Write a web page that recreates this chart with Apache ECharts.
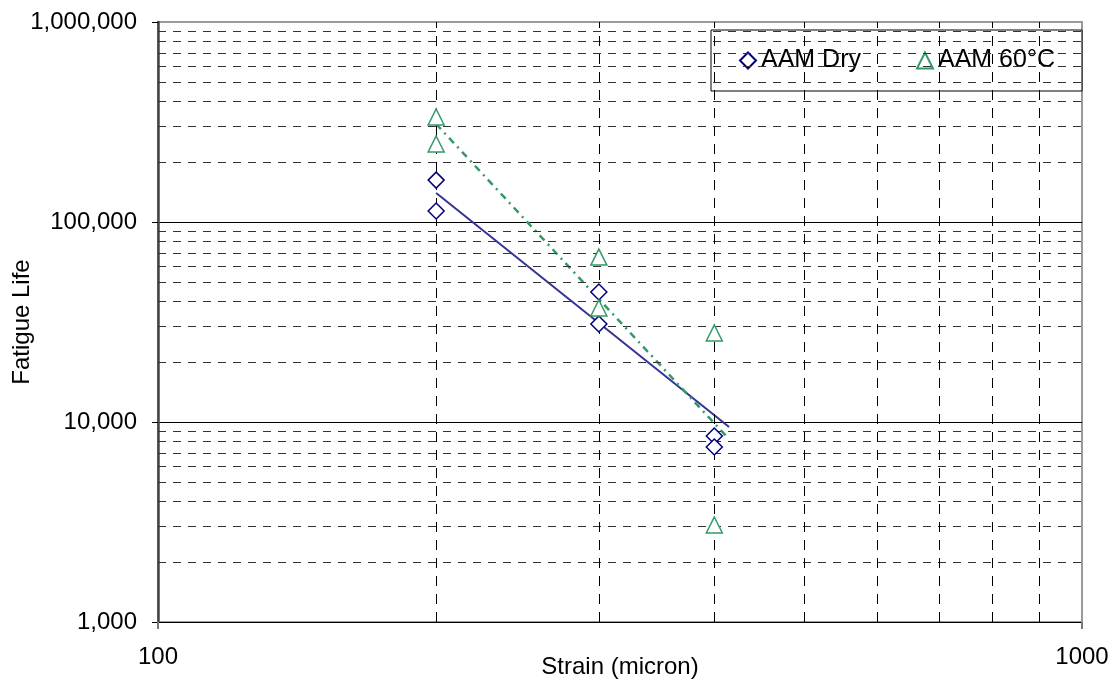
<!DOCTYPE html>
<html>
<head>
<meta charset="utf-8">
<script src="https://cdn.jsdelivr.net/npm/echarts@6/dist/echarts.min.js"></script>
<style>html,body{margin:0;padding:0;background:#fff}#c{width:1118px;height:688px}</style>
</head>
<body>
<div id="c"></div>
<script>
// Data
const strainDry = [200, 200, 300, 300, 400, 400];
const lifeDry = [162000, 113500, 44700, 30900, 8510, 7500];
const strain60 = [200, 200, 300, 300, 400, 400];
const life60 = [335000, 245500, 66800, 37150, 27860, 3055];
// Power-law trend lines (end points)
const trendDryStrain = [200, 415];
const trendDryLife = [139600, 9440];
const trend60Strain = [200, 413];
const trend60Life = [309000, 8410];
// Minor grid lines
const minorX = [200, 300, 400, 500, 600, 700, 800, 900];
const minorY = [2000, 3000, 4000, 5000, 6000, 7000, 8000, 9000,
  20000, 30000, 40000, 50000, 60000, 70000, 80000, 90000,
  200000, 300000, 400000, 500000, 600000, 700000, 800000, 900000];

const FONT = '"Liberation Sans", Arial, sans-serif';
const pairs = (xs, ys) => xs.map((x, i) => [x, ys[i]]);

const chart = echarts.init(document.getElementById('c'), null, {renderer: 'canvas'});
chart.setOption({
  animation: false,
  backgroundColor: '#fff',
  textStyle: {fontFamily: FONT},
  grid: {left: 158, right: 36, top: 22, bottom: 66, containLabel: false, outerBoundsMode: 'none',
    show: true, borderColor: '#9a9a9a', borderWidth: 2, backgroundColor: 'transparent'},
  legend: {
    left: 711, top: 30,
    padding: [18, 27, 18, 28],
    borderColor: '#000', borderWidth: 1, backgroundColor: '#fff',
    itemGap: 55, itemWidth: 16, itemHeight: 16,
    textStyle: {fontSize: 25, color: '#000', fontFamily: FONT},
    data: ['AAM Dry', 'AAM 60°C']
  },
  xAxis: {
    type: 'log', logBase: 10, min: 100, max: 1000,
    name: 'Strain (micron)', nameLocation: 'middle', nameGap: 33, nameMoveOverlap: false,
    nameTextStyle: {fontSize: 24, color: '#000', fontFamily: FONT},
    axisLine: {show: true, onZero: false, lineStyle: {color: '#000', width: 1}},
    axisTick: {show: true, length: 7, lineStyle: {color: '#777', width: 2}},
    axisLabel: {fontSize: 24, color: '#000', margin: 23, fontFamily: FONT, formatter: v => String(Math.round(v))},
    splitLine: {show: false},
    minorTick: {show: false}, minorSplitLine: {show: false}
  },
  yAxis: {
    type: 'log', logBase: 10, min: 1000, max: 1000000,
    name: 'Fatigue Life', nameLocation: 'middle', nameGap: 124, nameRotate: 90, nameMoveOverlap: false,
    nameTextStyle: {fontSize: 24, color: '#000', fontFamily: FONT},
    axisLine: {show: true, onZero: false, lineStyle: {color: '#444', width: 2.5}},
    axisTick: {show: true, length: 6, lineStyle: {color: '#000', width: 1}},
    axisLabel: {fontSize: 24, color: '#000', margin: 21, fontFamily: FONT,
      formatter: v => Math.round(v).toLocaleString('en-US')},
    splitLine: {show: true, showMinLine: false, showMaxLine: false, lineStyle: {color: '#000', width: 1}},
    minorTick: {show: false}, minorSplitLine: {show: false}
  },
  series: [
    {
      type: 'line', data: [], silent: true, z: 1,
      markLine: {
        silent: true, symbol: ['none', 'none'], label: {show: false}, animation: false,
        emphasis: {disabled: true},
        data: minorY.map(v => ({yAxis: v, lineStyle: {color: '#333', width: 1, type: [8, 7]}}))
          .concat(minorX.map(v => ({xAxis: v, lineStyle: {color: '#000', width: 1, type: [10, 8]}})))
      }
    },
    {
      type: 'line', data: pairs(trendDryStrain, trendDryLife), symbol: 'none', silent: true, z: 3,
      lineStyle: {color: '#333399', width: 2}
    },
    {
      type: 'line', data: pairs(trend60Strain, trend60Life), symbol: 'none', silent: true, z: 3,
      lineStyle: {color: '#339966', width: 2.5, type: [7, 5, 2, 5]}
    },
    {
      name: 'AAM Dry', type: 'scatter', data: pairs(strainDry, lifeDry), z: 5,
      symbol: 'diamond', symbolSize: 16,
      itemStyle: {color: '#fff', borderColor: '#000080', borderWidth: 1.5, opacity: 1}
    },
    {
      name: 'AAM 60°C', type: 'scatter', data: pairs(strain60, life60), z: 5,
      symbol: 'triangle', symbolSize: 16,
      itemStyle: {color: '#fff', borderColor: '#339966', borderWidth: 1.5, opacity: 1}
    }
  ]
});
</script>
</body>
</html>
